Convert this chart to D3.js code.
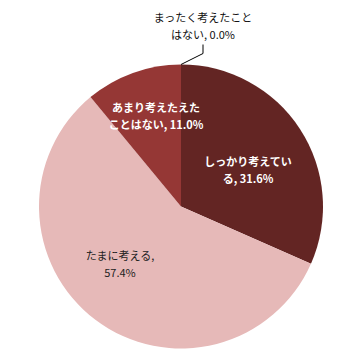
<!DOCTYPE html>
<html>
<head>
<meta charset="utf-8">
<script src="https://cdn.jsdelivr.net/npm/d3@7"></script>
<style>
  body { margin: 0; background: #fff; }
  text { font-family: "Noto Sans CJK JP", sans-serif; font-size: 11px; }
</style>
</head>
<body>
<div id="chart"></div>
<script>
const categories = ['しっかり考えている', 'たまに考える', 'あまり考えたえたことはない', 'まったく考えたことはない'];
const values = [31.6, 57.4, 11.0, 0.0];
const labelLines = [
  ['しっかり考えてい', 'る, 31.6%'],
  ['たまに考える,', '57.4%'],
  ['あまり考えたえた', 'ことはない, 11.0%'],
  ['まったく考えたこと', 'はない, 0.0%']
];

const width = 363, height = 364;
const cx = 181, cy = 206.5, radius = 142;

const colors = ['#632523', '#e6b9b8', '#953735', '#4f6228'];
const textFill = ['#fff', '#222', '#fff', '#111'];
const textWeight = ['bold', 'normal', 'bold', 'normal'];
// label centre offsets from pie centre
const labelPos = [[67, -36], [-61, 58], [-25, -90], [22, -180]];
const lineGap = 16.5;

const svg = d3.select('#chart').append('svg')
  .attr('width', width)
  .attr('height', height);

const g = svg.append('g')
  .attr('transform', `translate(${cx},${cy})`);

const pie = d3.pie().sort(null).value(d => d);
const arcs = pie(values);
const arc = d3.arc().innerRadius(0).outerRadius(radius);

g.selectAll('path.slice')
  .data(arcs)
  .enter().append('path')
  .attr('class', 'slice')
  .attr('d', arc)
  .attr('fill', (d, i) => colors[i]);

// leader line for the 0% slice
const zero = arcs[3];
const edge = d3.arc().innerRadius(radius).outerRadius(radius).centroid(zero);
g.append('polyline')
  .attr('points', [[edge[0], edge[1]], [labelPos[3][0], -radius - 11], [labelPos[3][0], -radius - 20]].map(p => p.join(',')).join(' '))
  .attr('fill', 'none')
  .attr('stroke', '#000')
  .attr('stroke-width', 1);

arcs.forEach((d, i) => {
  const t = g.append('text')
    .attr('text-anchor', 'middle')
    .attr('fill', textFill[i])
    .attr('font-weight', textWeight[i])
    .attr('transform', `translate(${labelPos[i][0]},${labelPos[i][1]})`);
  labelLines[i].forEach((line, j) => {
    t.append('tspan')
      .attr('x', 0)
      .attr('y', (j - 0.5) * lineGap + 4)
      .text(line);
  });
});
</script>
</body>
</html>
